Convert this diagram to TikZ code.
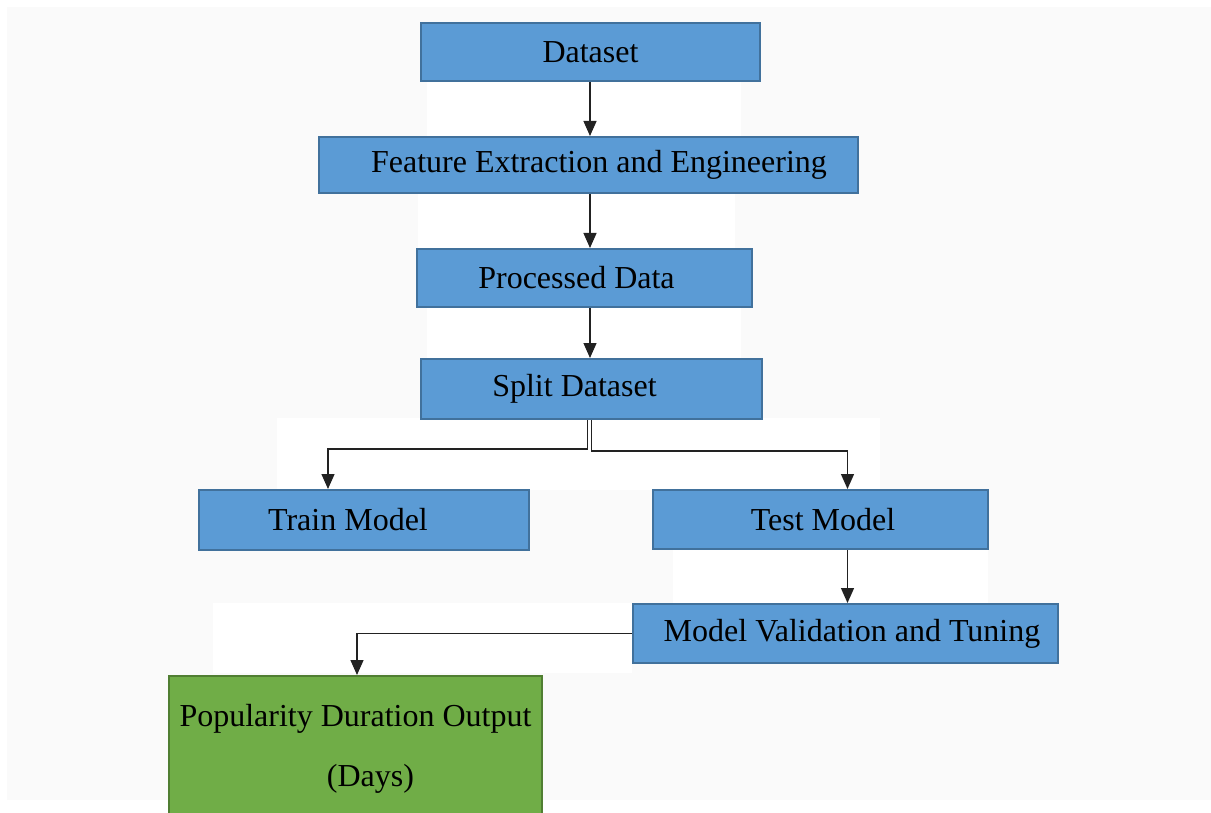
\documentclass[tikz,border=0pt]{standalone}
\usepackage{fontspec}
\setmainfont{Liberation Serif}
\usetikzlibrary{arrows.meta}
\definecolor{bg}{HTML}{FAFAFA}
\definecolor{bluefill}{HTML}{5B9BD5}
\definecolor{blueline}{HTML}{41719C}
\definecolor{greenfill}{HTML}{70AD47}
\definecolor{greenline}{HTML}{507E32}
\definecolor{linecol}{HTML}{222222}
\tikzset{
  bluebox/.style={draw=blueline, line width=2pt, fill=bluefill, anchor=north west,
    inner sep=0pt, font=\fontsize{32}{38}\selectfont, text=black},
  greenbox/.style={draw=greenline, line width=2pt, fill=greenfill, anchor=north west,
    inner sep=0pt, font=\fontsize{32}{60}\selectfont, text=black, align=center},
  arr/.style={draw=linecol, line width=1.3pt, -{Triangle[length=15pt,width=13pt]}},
}
\begin{document}
\begin{tikzpicture}[x=1pt,y=-1pt]
\useasboundingbox (0,0) rectangle (1211,813);
\fill[white] (0,0) rectangle (1211,813);
\fill[bg] (7,7) rectangle (1211,800);
% white patches behind connectors
\fill[white] (427,80) rectangle (741,136);
\fill[white] (418,192) rectangle (735,248);
\fill[white] (427,306) rectangle (741,358);
\fill[white] (277,418) rectangle (880,490);
\fill[white] (673,548) rectangle (988,603);
\fill[white] (213,603) rectangle (632,673);
% boxes
\node[bluebox, minimum width=339pt, minimum height=58pt] (data) at (420,22) {Dataset};
\node[bluebox, minimum width=539pt, minimum height=56pt] (feat) at (318,136) {\hspace*{21pt}Feature Extraction and Engineering};
\node[bluebox, minimum width=335pt, minimum height=58pt] (proc) at (416,248) {\hspace*{-16pt}Processed Data};
\node[bluebox, minimum width=341pt, minimum height=60pt] (split) at (420,358) {\hspace*{-34pt}Split Dataset};
\node[bluebox, minimum width=330pt, minimum height=60pt] (train) at (198,489) {\hspace*{-32pt}Train Model};
\node[bluebox, minimum width=335pt, minimum height=59pt] (test) at (652,489) {\hspace*{5pt}Test Model};
\node[bluebox, minimum width=425pt, minimum height=59pt] (val) at (632,603) {\hspace*{13pt}Model Validation and Tuning};
\node[greenbox, minimum width=373pt, minimum height=145pt] (pop) at (168,675) {Popularity Duration Output\\\hspace*{30pt}(Days)};
% connectors
\draw[arr] ([xshift=-0.5pt]data.south) -- ([xshift=-0.5pt]data.south |- feat.north);
\draw[arr] ([xshift=-0.5pt]data.south |- feat.south) -- ([xshift=-0.5pt]data.south |- proc.north);
\draw[arr] ([xshift=-0.5pt]data.south |- proc.south) -- ([xshift=-0.5pt]data.south |- split.north);
\draw[arr] ([xshift=-4pt]split.south) -- ++(0,29) -| ([xshift=-36pt]train.north);
\draw[arr] ([xshift=0pt]split.south) -- ++(0,31) -| ([xshift=27pt]test.north);
\draw[arr] ([xshift=27pt]test.south) -- ([xshift=27pt]test.south |- val.north);
\draw[arr] (val.west) -| ([xshift=1.5pt]pop.north);
\end{tikzpicture}
\end{document}
